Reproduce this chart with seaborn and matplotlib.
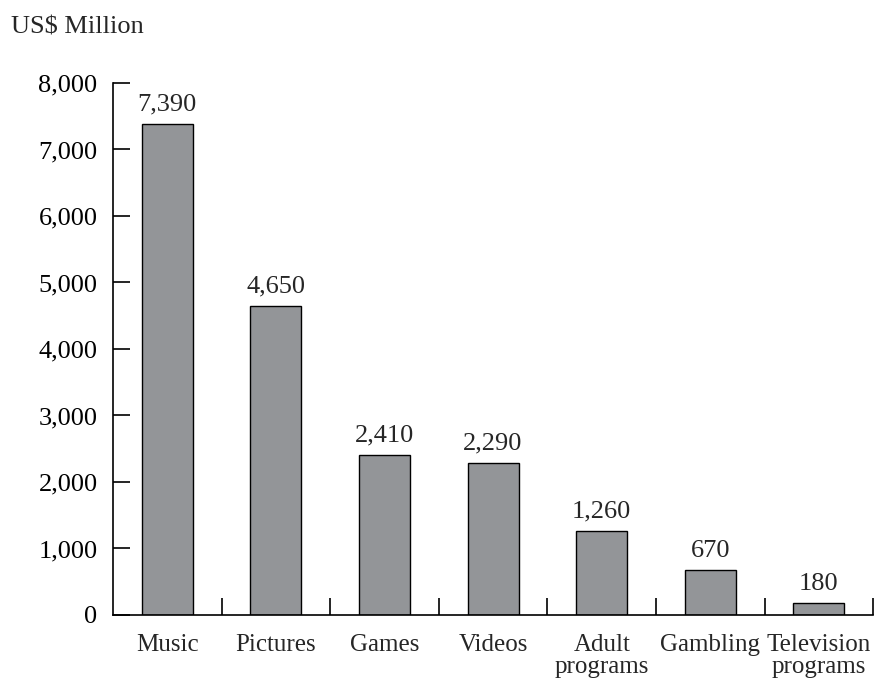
import matplotlib
matplotlib.use("Agg")
import matplotlib.pyplot as plt
import seaborn as sns
import pandas as pd
from matplotlib.ticker import FuncFormatter, FixedLocator

categories = ["Music", "Pictures", "Games", "Videos", "Adult\nprograms", "Gambling", "Television\nprograms"]
values = [7390, 4650, 2410, 2290, 1260, 670, 180]
y_ticks = [0, 1000, 2000, 3000, 4000, 5000, 6000, 7000, 8000]

sns.set_style("white")
plt.rcParams["font.family"] = ["Liberation Serif", "DejaVu Serif"]

df = pd.DataFrame({"category": categories, "value": values})

FS = 19
FS_CAT = 18

fig = plt.figure(figsize=(8.75, 6.79), dpi=100)
ax = fig.add_axes([0.129, 0.0943, 0.869, 0.7835])

sns.barplot(data=df, x="category", y="value", color="#939598", saturation=1,
            edgecolor="black", linewidth=1.0, width=0.47, ax=ax)

ax.set_ylim(0, 8000)
ax.set_xlim(-0.5, len(categories) - 0.5)
ax.set_yticks(y_ticks)
ax.yaxis.set_major_formatter(FuncFormatter(lambda v, p: f"{int(v):,}"))
ax.tick_params(axis="y", direction="in", length=12, width=1.2, labelsize=FS,
               left=True, pad=11, colors="black")
ax.tick_params(axis="x", which="major", length=0, labelsize=FS_CAT, pad=14)
ax.xaxis.set_minor_locator(FixedLocator([i + 0.5 for i in range(len(categories))]))
ax.tick_params(axis="x", which="minor", direction="in", length=12, width=1.2,
               bottom=True, colors="black")
for lbl in ax.get_xticklabels():
    lbl.set_linespacing(1.0)

for s in ["top", "right"]:
    ax.spines[s].set_visible(False)
for s in ["left", "bottom"]:
    ax.spines[s].set_color("black")
    ax.spines[s].set_linewidth(1.2)

ax.set_xlabel("")
ax.set_ylabel("")

for i, v in enumerate(values):
    ax.text(i, v + 200, f"{v:,}", ha="center", va="baseline", fontsize=FS)

fig.text(0.013, 0.96, "US$ Million", ha="left", va="center", fontsize=FS)

fig.savefig("out.png", dpi=100)
